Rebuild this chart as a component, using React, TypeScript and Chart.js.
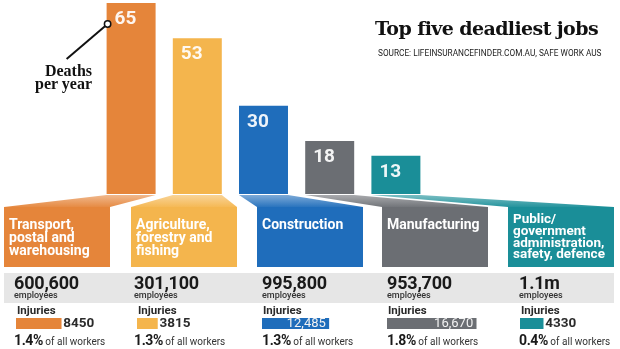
import React, { useEffect, useRef } from 'react';
import { Chart, registerables } from 'chart.js';

Chart.register(...registerables);

// ---------------- data ----------------
const industries = [
  'Transport, postal and warehousing',
  'Agriculture, forestry and fishing',
  'Construction',
  'Manufacturing',
  'Public/government administration, safety, defence',
];
const industryLines = [
  ['Transport,', 'postal and', 'warehousing'],
  ['Agriculture,', 'forestry and', 'fishing'],
  ['Construction'],
  ['Manufacturing'],
  ['Public/', 'government', 'administration,', 'safety, defence'],
];
const deathsPerYear = [65, 53, 30, 18, 13];
const employeeCounts = ['600,600', '301,100', '995,800', '953,700', '1.1m'];
const injuries = [8450, 3815, 12485, 16670, 4330];
const injuryLabels = ['8450', '3815', '12,485', '16,670', '4330'];
const shareOfWorkers = ['1.4%', '1.3%', '1.3%', '1.8%', '0.4%'];
const colours = ['#E5853A', '#F4B54D', '#1F6DBB', '#6B6E73', '#1A8E98'];
const INJURY_AXIS_MAX = 20000;

// ---------------- layout ----------------
const PAGE_W = 620;
const PAGE_H = 349;
const PLOT_LEFT = 98;
const PLOT_RIGHT = 429;
const PLOT_TOP = 3;
const PLOT_BOTTOM = 194;
const BOX_LEFTS = [4, 131, 257, 382, 508];
const BOX_W = 106;
const BOX_TOP = 207;
const BOX_H = 60;
const COL_X = [14, 134, 262, 387, 519];
const INJ_X = [16, 137, 262, 387, 520];
const INJ_TOP = 318;
const INJ_H = 11;
const INJ_CANVAS_W = 107;

const SANS = 'Roboto, "Liberation Sans", Arial, sans-serif';
const SERIF = '"Liberation Serif", "Times New Roman", serif';
const HEAVY_SERIF = '"DejaVu Serif", "Liberation Serif", serif';

function tint(hex: string, f: number) {
  const n = parseInt(hex.slice(1), 16);
  const r = (n >> 16) & 255, g = (n >> 8) & 255, b = n & 255;
  const m = (c: number) => Math.round(c + (255 - c) * f);
  return `rgb(${m(r)},${m(g)},${m(b)})`;
}

function DeathsChart() {
  const ref = useRef<HTMLCanvasElement>(null);
  useEffect(() => {
    const canvas = ref.current!;
    const funnelPlugin = {
      id: 'funnels',
      beforeDatasetsDraw(chart: any) {
        const ctx = chart.ctx;
        const meta = chart.getDatasetMeta(0);
        meta.data.forEach((bar: any, i: number) => {
          const { x, width, base } = bar.getProps(['x', 'width', 'base'], true);
          const l = x - width / 2;
          const r = x + width / 2;
          const g = ctx.createLinearGradient(0, base, 0, BOX_TOP);
          g.addColorStop(0, tint(colours[i], 0.45));
          g.addColorStop(1, tint(colours[i], 0.05));
          ctx.save();
          ctx.fillStyle = g;
          ctx.beginPath();
          ctx.moveTo(l, base + 1);
          ctx.lineTo(r, base + 1);
          ctx.lineTo(BOX_LEFTS[i] + BOX_W, BOX_TOP);
          ctx.lineTo(BOX_LEFTS[i], BOX_TOP);
          ctx.closePath();
          ctx.fill();
          ctx.fillStyle = colours[i];
          ctx.fillRect(BOX_LEFTS[i], BOX_TOP, BOX_W, BOX_H);
          ctx.restore();
        });
      },
      afterDatasetsDraw(chart: any) {
        const ctx = chart.ctx;
        const meta = chart.getDatasetMeta(0);
        ctx.save();
        meta.data.forEach((bar: any, i: number) => {
          const { x, y, width } = bar.getProps(['x', 'y', 'width'], true);
          ctx.fillStyle = 'rgba(255,255,255,0.92)';
          ctx.font = `bold 19px ${SANS}`;
          ctx.textBaseline = 'alphabetic';
          ctx.textAlign = 'left';
          ctx.fillText(String(deathsPerYear[i]), x - width / 2 + 8, y + 21);
        });
        // leader for "Deaths per year"
        const b0 = meta.data[0].getProps(['x', 'y', 'width'], true);
        const cx = b0.x - b0.width / 2 + 1;
        const cy = b0.y + 21;
        ctx.strokeStyle = '#111';
        ctx.lineWidth = 2;
        ctx.beginPath();
        ctx.moveTo(cx, cy);
        ctx.lineTo(cx - 41, cy + 35);
        ctx.stroke();
        ctx.beginPath();
        ctx.arc(cx, cy, 3.2, 0, Math.PI * 2);
        ctx.fillStyle = '#fff';
        ctx.fill();
        ctx.lineWidth = 1.5;
        ctx.stroke();
        ctx.restore();
      },
    };
    const chart = new Chart(canvas, {
      type: 'bar',
      data: {
        labels: industries,
        datasets: [
          {
            data: deathsPerYear,
            backgroundColor: colours,
            borderWidth: 0,
            barPercentage: 0.74,
            categoryPercentage: 1,
          },
        ],
      },
      options: {
        responsive: false,
        animation: false,
        devicePixelRatio: 1,
        layout: {
          padding: {
            left: PLOT_LEFT,
            right: PAGE_W - PLOT_RIGHT,
            top: PLOT_TOP,
            bottom: PAGE_H - PLOT_BOTTOM,
          },
        },
        scales: {
          x: { display: false },
          y: { display: false, min: 0, max: Math.max(...deathsPerYear) },
        },
        plugins: { legend: { display: false }, tooltip: { enabled: false } },
      },
      plugins: [funnelPlugin],
    } as any);
    return () => chart.destroy();
  }, []);
  return (
    <canvas
      ref={ref}
      width={PAGE_W}
      height={PAGE_H}
      style={{ position: 'absolute', left: 0, top: 0 }}
    />
  );
}

function InjuryBar({ i }: { i: number }) {
  const ref = useRef<HTMLCanvasElement>(null);
  useEffect(() => {
    const canvas = ref.current!;
    const labelPlugin = {
      id: 'injLabel',
      afterDatasetsDraw(chart: any) {
        const ctx = chart.ctx;
        const bar = chart.getDatasetMeta(0).data[0];
        const { x, y, base } = bar.getProps(['x', 'y', 'base'], true);
        const w = x - base;
        ctx.save();
        ctx.textBaseline = 'middle';
        if (w >= 60) {
          ctx.font = `13px ${SANS}`;
          ctx.fillStyle = '#F2F2F2';
          ctx.textAlign = 'right';
          ctx.fillText(injuryLabels[i], x - 3, y + 0.5);
        } else {
          ctx.font = `bold 13.5px ${SANS}`;
          ctx.fillStyle = '#2B2B2B';
          ctx.textAlign = 'left';
          ctx.fillText(injuryLabels[i], x + 2, y + 0.5);
        }
        ctx.restore();
      },
    };
    const chart = new Chart(canvas, {
      type: 'bar',
      data: {
        labels: [industries[i]],
        datasets: [
          {
            data: [injuries[i]],
            backgroundColor: colours[i],
            borderWidth: 0,
            barPercentage: 1,
            categoryPercentage: 1,
          },
        ],
      },
      options: {
        indexAxis: 'y',
        responsive: false,
        animation: false,
        devicePixelRatio: 1,
        layout: { padding: 0 },
        scales: {
          x: { display: false, min: 0, max: INJURY_AXIS_MAX },
          y: { display: false },
        },
        plugins: { legend: { display: false }, tooltip: { enabled: false } },
      },
      plugins: [labelPlugin],
    } as any);
    return () => chart.destroy();
  }, [i]);
  return (
    <canvas
      ref={ref}
      width={INJ_CANVAS_W}
      height={INJ_H}
      style={{ position: 'absolute', left: INJ_X[i], top: INJ_TOP }}
    />
  );
}

export default function App() {
  const abs = (s: React.CSSProperties): React.CSSProperties => ({ position: 'absolute', margin: 0, whiteSpace: 'nowrap', ...s });
  return (
    <div
      style={{
        position: 'fixed',
        left: 0,
        top: 0,
        width: PAGE_W,
        height: PAGE_H,
        background: '#fff',
        overflow: 'hidden',
      }}
    >
      <div style={abs({ left: 4, top: 273, width: 610, height: 30, background: '#E6E6E6' })} />
      <DeathsChart />
      <div
        style={abs({
          left: 375,
          top: 19,
          font: `bold 19px ${HEAVY_SERIF}`,
          lineHeight: '19px',
          letterSpacing: '-0.6px',
          color: '#111',
        })}
      >
        Top five deadliest jobs
      </div>
      <div
        style={abs({
          left: 378,
          top: 48,
          font: `9.5px ${SANS}`,
          lineHeight: '10px',
          color: '#222',
          transformOrigin: 'left top',
          transform: 'scaleX(0.87)',
        })}
      >
        SOURCE: LIFEINSURANCEFINDER.COM.AU, SAFE WORK AUS
      </div>
      <div
        style={abs({
          left: 20,
          top: 64,
          width: 72,
          textAlign: 'right',
          font: `bold 16px ${SERIF}`,
          lineHeight: '13px',
          color: '#111',
        })}
      >
        Deaths
        <br />
        per year
      </div>
      {industryLines.map((lines, i) => {
        const four = lines.length > 3;
        return (
          <div
            key={'box' + i}
            style={abs({
              left: BOX_LEFTS[i] + 5,
              top: BOX_TOP + (four ? 6 : 11),
              font: `bold ${four ? 13.5 : 14}px ${SANS}`,
              lineHeight: four ? '11.8px' : '13px',
              color: '#fff',
            })}
          >
            {lines.map((t, k) => (
              <div key={k}>{t}</div>
            ))}
          </div>
        );
      })}
      {employeeCounts.map((t, i) => (
        <div
          key={'emp' + i}
          style={abs({ left: COL_X[i], top: 274, font: `bold 18px ${SANS}`, lineHeight: '18px', color: '#1a1a1a', letterSpacing: '-0.2px' })}
        >
          {t}
        </div>
      ))}
      {employeeCounts.map((_, i) => (
        <div
          key={'empl' + i}
          style={abs({ left: COL_X[i], top: 291, font: `500 9px ${SANS}`, lineHeight: '9px', color: '#333' })}
        >
          employees
        </div>
      ))}
      {injuries.map((_, i) => (
        <div
          key={'injl' + i}
          style={abs({ left: INJ_X[i] + 1, top: 305, font: `bold 11.5px ${SANS}`, lineHeight: '11px', color: '#2a2a2a' })}
        >
          Injuries
        </div>
      ))}
      {injuries.map((_, i) => (
        <InjuryBar key={'injb' + i} i={i} />
      ))}
      {shareOfWorkers.map((t, i) => (
        <div
          key={'sh' + i}
          style={abs({ left: COL_X[i], top: 332, lineHeight: '15px', color: '#1a1a1a' })}
        >
          <span style={{ font: `bold 14px ${SANS}`, letterSpacing: '-0.4px' }}>{t}</span>
          <span style={{ font: `10px ${SANS}`, color: '#333' }}> of all workers</span>
        </div>
      ))}
    </div>
  );
}
